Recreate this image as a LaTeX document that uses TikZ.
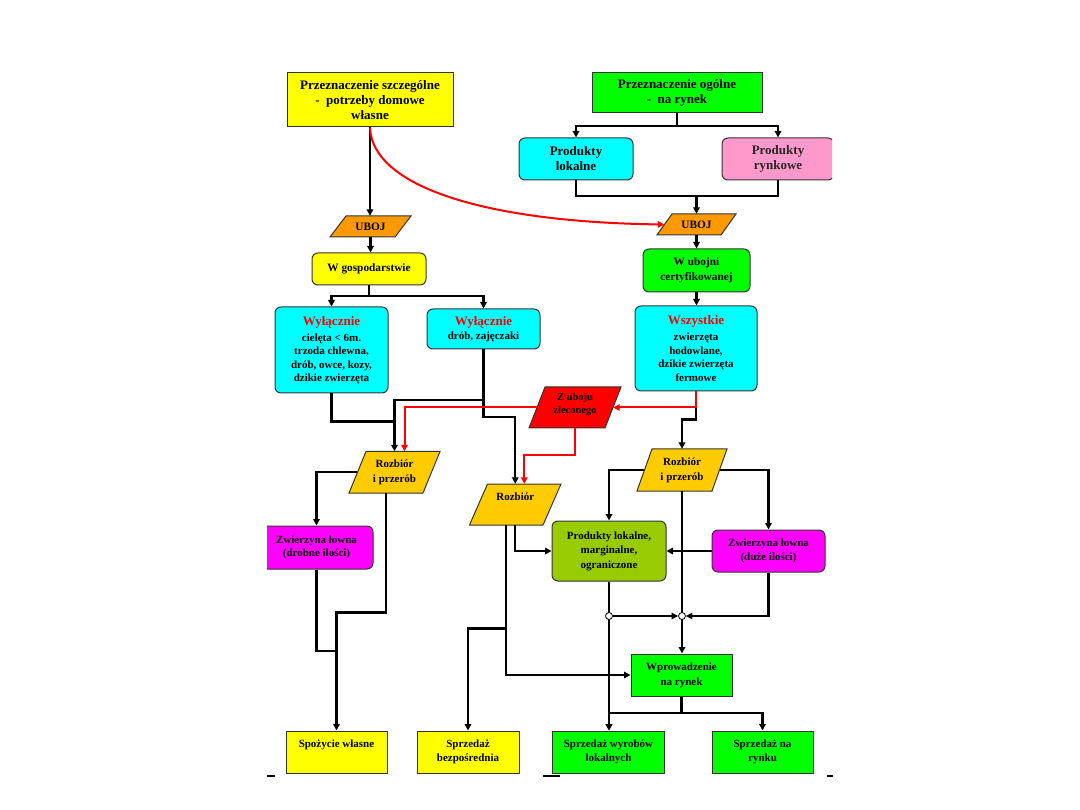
\documentclass[tikz,border=0pt]{standalone}
\usepackage{fontspec}
\setmainfont{Liberation Serif}
\usetikzlibrary{arrows.meta,calc}
\definecolor{yel}{HTML}{FFFF00}
\definecolor{grn}{HTML}{00FF00}
\definecolor{cyn}{HTML}{00FFFF}
\definecolor{pnk}{HTML}{FF99CC}
\definecolor{org}{HTML}{FF9900}
\definecolor{gld}{HTML}{FFCC00}
\definecolor{olv}{HTML}{99CC00}
\definecolor{mag}{HTML}{FF00FF}
\definecolor{rd}{HTML}{FF0000}
\definecolor{bordc}{HTML}{333333}
\newcommand\myfbig{\bfseries\fontsize{13pt}{15pt}\selectfont}
\newcommand\myfmed{\bfseries\fontsize{11pt}{13.5pt}\selectfont}
\newcommand\myfsm{\bfseries\fontsize{10.5pt}{13pt}\selectfont}
\newcommand\myfub{\bfseries\fontsize{11.3pt}{13pt}\selectfont}
% name, x bottom-left, x top-right, y top, y bottom, slant offset, fill, font, text
\newcommand\mypgram[9]{%
  \path[draw=bordc, line width=1pt, fill=#7] (#2,#5) -- (#2+#6,#4) -- (#3,#4) -- (#3-#6,#5) -- cycle;
  \node[align=center, inner sep=0pt, font=#8, minimum width=#3-#2-#6, minimum height=#5-#4] (#1) at ({(#2+#3)/2},{(#4+#5)/2}) {#9};
}
\tikzset{
  box/.style={draw=bordc, line width=1pt, align=center, inner sep=0pt},
  rbox/.style={box, rounded corners=6pt},
  ln/.style={line width=2.2pt, black},
  arr/.style={ln, -{Triangle[length=6.5pt,width=6.5pt]}},
  rln/.style={line width=2pt, rd},
  rarr/.style={rln, -{Triangle[length=6.5pt,width=6.5pt]}},
  dot/.style={circle, draw=black, fill=white, line width=0.8pt, minimum size=7pt, inner sep=0pt},
}
\begin{document}
\begin{tikzpicture}[x=1pt,y=-1pt]
\fill[white] (0,0) rectangle (1080,810);
\useasboundingbox (0,0) rectangle (1080,810);

% ---------- boxes ----------
\node[box, fill=yel, minimum width=166pt, minimum height=54pt, font=\myfbig] (pszcz) at (370,100) {Przeznaczenie szczególne\\ -\ \ potrzeby domowe\\ własne};
\node[box, fill=grn, minimum width=170pt, minimum height=40pt, font=\myfbig] (pogol) at (677,93) {Przeznaczenie ogólne\\ -\ \ na rynek};
\node[rbox, fill=cyn, minimum width=114pt, minimum height=42pt, font=\myfbig] (plok) at (576,159) {Produkty\\ lokalne};
\begin{scope}
  \clip (267,0) rectangle (832,810);
  \node[rbox, fill=pnk, minimum width=112pt, minimum height=42pt, font=\myfbig, text=black!85] (pryn) at (778,159) {Produkty\\ rynkowe};
  \node[rbox, fill=mag, minimum width=113pt, minimum height=43pt, font=\myfmed] (zdrob) at (316.5,547.5) {Zwierzyna łowna\\ (drobne ilości)};
\end{scope}

\mypgram{ubojL}{330}{411}{216}{237}{16}{org}{\myfub}{UBOJ}
\mypgram{ubojR}{657}{736}{214}{235}{15}{org}{\myfub}{UBOJ}

\node[rbox, fill=yel, minimum width=114pt, minimum height=32pt, font=\myfub] (wgosp) at (369,269) {W gospodarstwie};
\node[rbox, fill=grn, minimum width=107pt, minimum height=43pt, font=\myfub] (wuboj) at (696.5,270.5) {W ubojni\\[2pt] certyfikowanej};

\node[rbox, fill=cyn, minimum width=113pt, minimum height=86pt, font=\myfmed] (wylL) at (331.5,350) {{\color{rd}\myfbig Wyłącznie}\\[2.5pt] cielęta < 6m.\\ trzoda chlewna,\\ drób, owce, kozy,\\ dzikie zwierzęta};
\node[rbox, fill=cyn, minimum width=113pt, minimum height=40pt, font=\myfmed] (wylM) at (483.5,329) {{\color{rd}\myfbig Wyłącznie}\\[0.5pt] drób, zajęczaki};
\node[rbox, fill=cyn, minimum width=122pt, minimum height=85pt, font=\myfmed] (wszy) at (696,348.5) {{\color{rd}\myfbig Wszystkie}\\[2.5pt] zwierzęta\\ hodowlane,\\ dzikie zwierzęta\\ fermowe};

\mypgram{zub}{529}{621}{387}{428}{16}{rd}{\myfsm}{\raisebox{3pt}[\height][\depth]{Z uboju}\\ \raisebox{3pt}[\height][\depth]{zleconego}}
\mypgram{rozL}{349}{440}{451.5}{493}{17}{gld}{\myfmed}{Rozbiór\\[1.5pt] i przerób}
\mypgram{rozM}{469.5}{561}{484}{525}{18}{gld}{\myfmed}{\raisebox{8pt}[\height][\depth]{Rozbiór}}
\mypgram{rozR}{637}{727}{449}{491}{15}{gld}{\myfmed}{Rozbiór\\[1.5pt] i przerób}

\node[rbox, fill=olv, minimum width=114pt, minimum height=60pt, font=\myfmed] (pmarg) at (609,551) {Produkty lokalne,\\[1pt] marginalne,\\[1pt] ograniczone};
\node[rbox, fill=mag, minimum width=113pt, minimum height=42pt, font=\myfmed] (zduze) at (768.5,551) {Zwierzyna łowna\\ (duże ilości)};
\node[box, fill=grn, minimum width=101pt, minimum height=42pt, font=\myfmed] (wprow) at (681.5,675) {Wprowadzenie\\[1.5pt] na rynek};

\node[box, fill=yel, minimum width=101pt, minimum height=42pt, font=\myfmed] (spoz) at (336.5,752) {\raisebox{7pt}[\height][\depth]{Spożycie własne}};
\node[box, fill=yel, minimum width=102pt, minimum height=42pt, font=\myfmed] (sbezp) at (468,752) {Sprzedaż\\ bezpośrednia};
\node[box, fill=grn, minimum width=112pt, minimum height=42pt, font=\myfmed] (swyr) at (608.5,752) {Sprzedaż wyrobów\\ lokalnych};
\node[box, fill=grn, minimum width=101pt, minimum height=42pt, font=\myfmed] (srynku) at (762.5,752) {Sprzedaż na\\ rynku};

% ---------- helper coordinates ----------
\coordinate (jg) at (0,296);
\coordinate (jo) at (0,126);
\coordinate (jp) at (0,196);
\coordinate (jL) at (0,421.5);
\coordinate (jM) at (0,400);
\coordinate (jM2) at (0,417);
\coordinate (jR) at (0,455.5);
\coordinate (jW1) at (0,407.5);
\coordinate (jW2) at (0,419.5);
\coordinate (jS1) at (0,612.5);
\coordinate (jS2) at (0,651);
\coordinate (jB) at (0,713);
\coordinate (jB2) at (0,628.5);
\coordinate (rMr) at ([xshift=9pt]rozM.north);
\coordinate (rLr) at ([xshift=10pt]rozL.north);
\coordinate (rLs) at ([xshift=-8.5pt]rozL.south);
\coordinate (rMs1) at ([xshift=-9.5pt]rozM.south);
\coordinate (rMs2) at (rozM.south);

% ---------- connectors: top ----------
\draw[arr] (pszcz.south) -- (pszcz.south |- ubojL.north);
\draw[rarr] (pszcz.south) .. controls (372,185) and (480,222) .. (ubojR.west);
\draw[arr] (ubojL.south) -- (ubojL.south |- wgosp.north);
\draw[ln] (wgosp.south) -- (wgosp.south |- jg);
\draw[arr] (wgosp.south |- jg) -| (wylL.north);
\draw[arr] (wgosp.south |- jg) -| (wylM.north);

\draw[ln] (pogol.south) -- (pogol.south |- jo);
\draw[arr] (pogol.south |- jo) -| (plok.north);
\draw[arr] (pogol.south |- jo) -| (pryn.north);
\draw[ln] (plok.south) -- (plok.south |- jp) -- (pryn.south |- jp) -- (pryn.south);
\draw[arr] (ubojR.north |- jp) -- (ubojR.north);
\draw[arr] (ubojR.south) -- (wuboj.north);
\draw[arr] (wuboj.south) -- (wuboj.south |- wszy.north);

% ---------- connectors: middle ----------
\draw[ln] (wylL.south) |- (rozL.north |- jL);
\draw[arr] (wylM.south) |- (rozL.north |- jM) -- (rozL.north);
\draw[arr] (wylM.south |- jM) -- (wylM.south |- jM2) -| (rozM.north);

\draw[arr] (wszy.south |- jW1) -- (wszy.south |- jW2) -| (rozR.north);
\draw[rarr] (wszy.south) |- (zub.east);
\draw[rarr] (zub.west) -| (rLr);
\draw[rarr] (zub.south) |- (rMr |- jR) -- (rMr);

% ---------- connectors: lower left ----------
\draw[arr] (rozL.west) -| (zdrob.north);
\draw[arr] (rLs) |- (spoz.north |- jS1) -- (spoz.north);
\draw[ln] (zdrob.south) |- (spoz.north |- jS2);

\draw[arr] (rMs1) |- (wprow.west);
\draw[arr] (rMs1 |- jB2) -| (sbezp.north);
\draw[arr] (rMs2) |- (pmarg.west);

% ---------- connectors: lower right ----------
\draw[arr] (rozR.west) -| (pmarg.north);
\draw[arr] (rozR.east) -| (zduze.north);
\draw[arr] (rozR.south) -- (rozR.south |- wprow.north);
\draw[arr] (zduze.west) -- (pmarg.east);
\draw[arr] (pmarg.south) -- (pmarg.south |- swyr.north);
\draw[ln] (wprow.south) -- (wprow.south |- jB);
\draw[arr] (wprow.south |- jB) -| (srynku.north);
\draw[arr] (wprow.south |- jB) -| (pmarg.south |- swyr.north);
\node[dot] (c1) at (609,616) {};
\node[dot] (c2) at (682,616) {};
\draw[arr] (zduze.south) |- (c2.east);
\draw[arr] (c1) -- (c2.west);

% ---------- slide marks ----------
\draw[line width=2.5pt] (267,776) -- (275,776);
\draw[line width=2.5pt] (543,776) -- (560,776);
\draw[line width=2.5pt] (827,776) -- (833,776);
\end{tikzpicture}
\end{document}
